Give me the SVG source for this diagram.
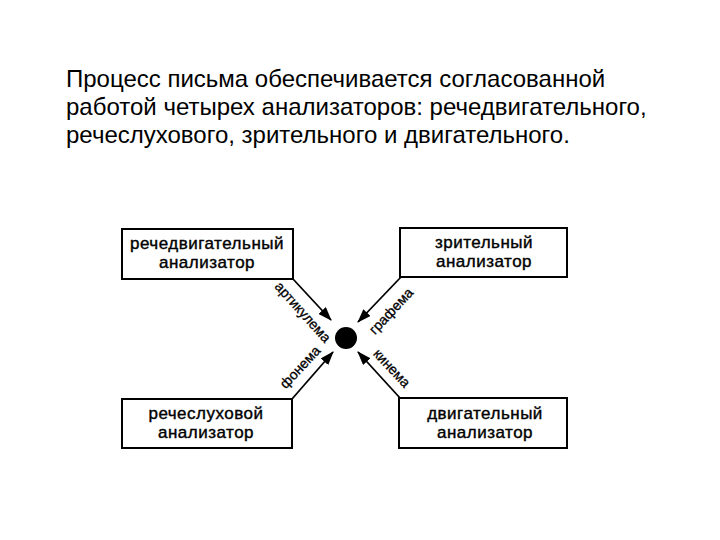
<svg xmlns="http://www.w3.org/2000/svg" width="720" height="540" viewBox="0 0 720 540">
<defs>
<marker id="ah" markerWidth="14" markerHeight="10" refX="13" refY="5" orient="auto" markerUnits="userSpaceOnUse">
<path d="M0,0 L14,5 L0,10 Z" fill="#000"/>
</marker>
<style>
.head{font-family:"Liberation Sans",Arial,sans-serif;font-size:24px;fill:#000}
.box{fill:#fff;stroke:#000;stroke-width:2}
.bt{font-family:"Liberation Sans",Arial,sans-serif;font-size:17px;letter-spacing:0.5px;fill:#000;stroke:#000;stroke-width:0.4;text-anchor:middle}
.lbl{font-family:"Liberation Sans",Arial,sans-serif;font-size:14px;fill:#000;stroke:#000;stroke-width:0.3;text-anchor:middle}
.con{stroke:#000;stroke-width:1.8;fill:none;marker-end:url(#ah)}
</style>
</defs>
<rect width="720" height="540" fill="#fff"/>
<g id="heading" class="head">
<text x="66" y="87">Процесс письма обеспечивается согласованной</text>
<text x="66" y="115">работой четырех анализаторов: речедвигательного,</text>
<text x="66" y="143">речеслухового, зрительного и двигательного.</text>
</g>
<g id="connectors">
<line class="con" x1="293" y1="279" x2="331" y2="320"/>
<line class="con" x1="401" y1="277" x2="358" y2="322"/>
<line class="con" x1="292" y1="399" x2="333" y2="352"/>
<line class="con" x1="400" y1="398" x2="358" y2="352"/>
<text class="lbl" transform="translate(303,312) rotate(48)" dy="0.35em">артикулема</text>
<text class="lbl" transform="translate(391,311) rotate(-47)" dy="0.35em">графема</text>
<text class="lbl" transform="translate(300,367) rotate(-47)" dy="0.35em">фонема</text>
<text class="lbl" transform="translate(392,368) rotate(47)" dy="0.35em">кинема</text>
</g>
<g id="center"><circle cx="346" cy="338" r="11" fill="#000"/></g>
<g id="speech-motor">
<rect class="box" x="122" y="229" width="171" height="50"/>
<text class="bt" x="207" y="249">речедвигательный</text>
<text class="bt" x="207" y="268">анализатор</text>
</g>
<g id="visual">
<rect class="box" x="400" y="228" width="167" height="49"/>
<text class="bt" x="484" y="248">зрительный</text>
<text class="bt" x="484" y="267">анализатор</text>
</g>
<g id="speech-auditory">
<rect class="box" x="122" y="399" width="170" height="49"/>
<text class="bt" x="206" y="419">речеслуховой</text>
<text class="bt" x="206" y="438">анализатор</text>
</g>
<g id="motor">
<rect class="box" x="399" y="398" width="168" height="50"/>
<text class="bt" x="485" y="419">двигательный</text>
<text class="bt" x="485" y="438">анализатор</text>
</g>
</svg>
